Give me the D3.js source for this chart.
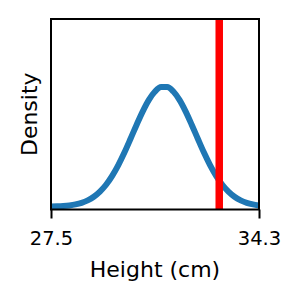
<!DOCTYPE html>
<html><head><meta charset="utf-8">
<script src="https://cdn.jsdelivr.net/npm/d3@7"></script>
<style>body{margin:0;background:#fff}svg{display:block}</style>
</head><body>
<script>
// Data
const heights = [27.5,27.7,27.9,28.1,28.3,28.5,28.7,28.9,29.1,29.3,29.5,29.7,29.9,30.1,30.3,30.5,30.7,30.9,31.1,31.3,31.5,31.7,31.9,32.1,32.3,32.5,32.7,32.9,33.1,33.3,33.5,33.7,33.9,34.1,34.3];
const density = [0.0006,0.0012,0.0023,0.0042,0.0074,0.0125,0.0204,0.0320,0.0485,0.0707,0.0992,0.1341,0.1746,0.2190,0.2644,0.3074,0.3443,0.3712,0.3855,0.3855,0.3712,0.3443,0.3074,0.2644,0.2190,0.1746,0.1341,0.0992,0.0707,0.0485,0.0320,0.0204,0.0125,0.0074,0.0042];
const markerValue = [33.0];
const xTicks = [27.5, 34.3];
const xDomain = [27.5, 34.3];
const yDomain = [-0.009, 0.605];

const W = 300, H = 300;
const m = {left: 51, right: 41, top: 19, bottom: 90.5};
const svg = d3.select("body").append("svg").attr("width", W).attr("height", H);
const x = d3.scaleLinear().domain(xDomain).range([m.left, W - m.right]);
const y = d3.scaleLinear().domain(yDomain).range([H - m.bottom, m.top]);

svg.append("clipPath").attr("id","c").append("rect")
  .attr("x", m.left).attr("y", m.top).attr("width", W-m.left-m.right).attr("height", H-m.top-m.bottom);

const pts = heights.map((h,i)=>[h, density[i]]);
svg.append("path").datum(pts)
  .attr("clip-path","url(#c)")
  .attr("fill","none").attr("stroke","#1f77b4").attr("stroke-width",6)
  .attr("stroke-linejoin","round").attr("stroke-linecap","butt")
  .attr("d", d3.line().x(d=>x(d[0])).y(d=>y(d[1])).curve(d3.curveMonotoneX));

svg.selectAll("line.marker").data(markerValue).enter().append("line")
  .attr("class","marker")
  .attr("x1", d=>x(d)).attr("x2", d=>x(d))
  .attr("y1", m.top).attr("y2", H-m.bottom)
  .attr("stroke","#ff0000").attr("stroke-width",7.5);

// frame
svg.append("rect").attr("x", m.left).attr("y", m.top)
  .attr("width", W-m.left-m.right).attr("height", H-m.top-m.bottom)
  .attr("fill","none").attr("stroke","#000").attr("stroke-width",2);

const xAxis = svg.append("g").attr("transform", `translate(0,${H-m.bottom})`)
  .call(d3.axisBottom(x).tickValues(xTicks).tickFormat(d3.format(".1f")).tickSize(9).tickPadding(13));
xAxis.select(".domain").remove();
xAxis.selectAll(".tick line").attr("stroke","#000").attr("stroke-width",2);
xAxis.selectAll(".tick text").attr("fill","#000").style("font-family","DejaVu Sans").style("font-size","19.5px");

svg.append("text").attr("x", (m.left + W - m.right)/2).attr("y", 277)
  .attr("text-anchor","middle").style("font-family","DejaVu Sans").style("font-size","22px")
  .text("Height (cm)");
svg.append("text")
  .attr("transform", `translate(37,${(m.top + H - m.bottom)/2}) rotate(-90)`)
  .attr("text-anchor","middle").style("font-family","DejaVu Sans").style("font-size","22px")
  .text("Density");
</script>
</body></html>
